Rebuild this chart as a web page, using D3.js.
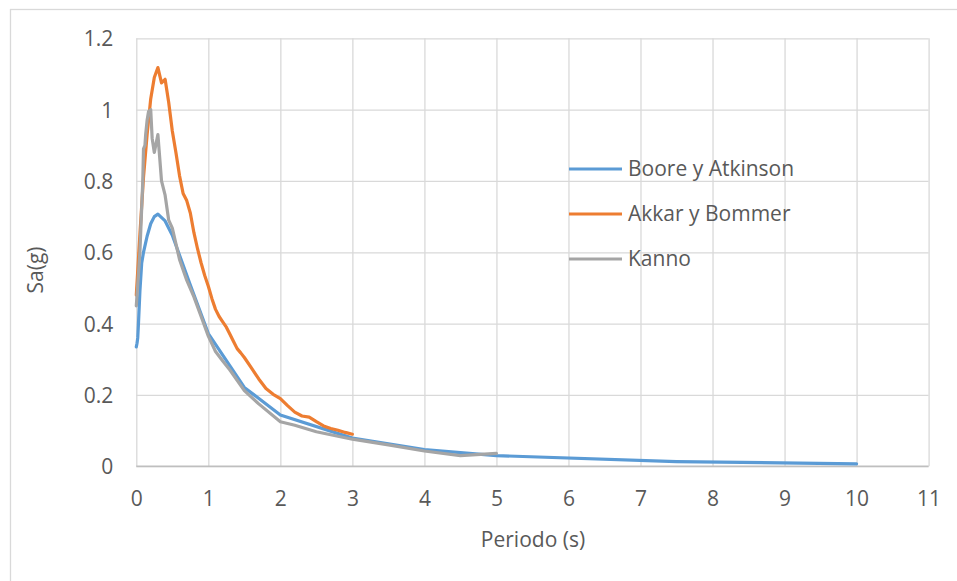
<!DOCTYPE html>
<html>
<head>
<meta charset="utf-8">
<script src="https://cdn.jsdelivr.net/npm/d3@7"></script>
<style>
  html, body { margin: 0; padding: 0; background: #ffffff; }
  svg { display: block; }
  text { font-family: "Open Sans", "Liberation Sans", sans-serif; fill: #595959; }
</style>
</head>
<body>
<svg id="chart" width="957" height="581"></svg>
<script>
// ---- Data ----
const seriesNames = ["Boore y Atkinson", "Akkar y Bommer", "Kanno"];

const booreT  = [0, 0.01, 0.02, 0.03, 0.05, 0.075, 0.1, 0.15, 0.2, 0.25, 0.3, 0.4, 0.5, 0.75, 1, 1.5, 2, 3, 4, 5, 7.5, 10];
const booreSa = [0.335, 0.345, 0.36, 0.40, 0.49, 0.57, 0.60, 0.645, 0.68, 0.70, 0.707, 0.688, 0.648, 0.508, 0.372, 0.221, 0.144, 0.079, 0.047, 0.030, 0.013, 0.007];

const akkarT  = [0, 0.05, 0.1, 0.15, 0.2, 0.25, 0.3, 0.35, 0.4, 0.45, 0.5, 0.55, 0.6, 0.65, 0.7, 0.75, 0.8, 0.85, 0.9, 0.95, 1.0, 1.05, 1.1, 1.15, 1.2, 1.25, 1.3, 1.35, 1.4, 1.45, 1.5, 1.6, 1.7, 1.8, 1.9, 2.0, 2.1, 2.2, 2.3, 2.4, 2.5, 2.6, 2.7, 2.8, 2.9, 3.0];
const akkarSa = [0.48, 0.65, 0.81, 0.93, 1.03, 1.09, 1.118, 1.075, 1.085, 1.02, 0.94, 0.88, 0.815, 0.765, 0.745, 0.71, 0.655, 0.61, 0.57, 0.535, 0.505, 0.47, 0.44, 0.42, 0.405, 0.39, 0.37, 0.35, 0.33, 0.318, 0.305, 0.275, 0.245, 0.218, 0.202, 0.19, 0.17, 0.152, 0.141, 0.138, 0.125, 0.113, 0.106, 0.101, 0.095, 0.09];

const kannoT  = [0, 0.05, 0.06, 0.07, 0.08, 0.09, 0.1, 0.11, 0.12, 0.13, 0.15, 0.17, 0.2, 0.22, 0.25, 0.3, 0.35, 0.4, 0.45, 0.5, 0.6, 0.7, 0.8, 0.9, 1.0, 1.1, 1.2, 1.3, 1.5, 1.7, 2.0, 2.2, 2.5, 3.0, 3.5, 4.0, 4.5, 5.0];
const kannoSa = [0.45, 0.60, 0.65, 0.70, 0.75, 0.80, 0.89, 0.895, 0.90, 0.93, 0.97, 0.995, 1.0, 0.92, 0.88, 0.93, 0.80, 0.76, 0.69, 0.668, 0.58, 0.522, 0.475, 0.42, 0.365, 0.322, 0.295, 0.27, 0.212, 0.175, 0.125, 0.115, 0.097, 0.076, 0.06, 0.043, 0.030, 0.036];

const xTicks = [0, 1, 2, 3, 4, 5, 6, 7, 8, 9, 10, 11];
const yTicks = [0, 0.2, 0.4, 0.6, 0.8, 1.0, 1.2];
const yTickLabels = ["0", "0.2", "0.4", "0.6", "0.8", "1", "1.2"];
const xTitle = "Periodo (s)";
const yTitle = "Sa(g)";

const colors = ["#5B9BD5", "#ED7D31", "#A5A5A5"];

// ---- Layout ----
const svg = d3.select("#chart");
const pL = 136.3, pR = 928.6, pT = 38.3, pB = 466.3;
const fs = 21;

const x = d3.scaleLinear().domain([0, 11]).range([pL, pR]);
const y = d3.scaleLinear().domain([0, 1.2]).range([pB, pT]);

// outer chart frame
svg.append("rect")
  .attr("x", 10.5).attr("y", 9.5)
  .attr("width", 1000).attr("height", 1000)
  .attr("fill", "#ffffff")
  .attr("stroke", "#d9d9d9").attr("stroke-width", 1.3);

// y gridlines + labels
const yAx = svg.append("g")
  .attr("transform", `translate(${pL},0)`)
  .call(d3.axisLeft(y).tickValues(yTicks)
    .tickFormat((d, i) => yTickLabels[i])
    .tickSize(-(pR - pL)).tickPadding(23));
yAx.select(".domain").remove();
yAx.selectAll(".tick line").attr("stroke", "#d9d9d9").attr("stroke-width", 1.3);
yAx.selectAll(".tick text").attr("font-size", fs).attr("dy", "0.36em")
  .style("font-family", "'Open Sans', sans-serif").attr("fill", "#595959");

// x gridlines + labels
const xAx = svg.append("g")
  .attr("transform", `translate(0,${pB})`)
  .call(d3.axisBottom(x).tickValues(xTicks)
    .tickFormat(d3.format("d"))
    .tickSize(-(pB - pT)).tickPadding(24.5));
xAx.select(".domain").remove();
xAx.selectAll(".tick line").attr("stroke", "#d9d9d9").attr("stroke-width", 1.3);
xAx.selectAll(".tick text").attr("font-size", fs)
  .style("font-family", "'Open Sans', sans-serif").attr("fill", "#595959");

// axis line at bottom
svg.append("line")
  .attr("x1", pL).attr("x2", pR)
  .attr("y1", pB).attr("y2", pB)
  .attr("stroke", "#bfbfbf").attr("stroke-width", 1.5);

// series
const line = d3.line().x(d => x(d[0])).y(d => y(d[1]));
const allSeries = [
  d3.zip(booreT, booreSa),
  d3.zip(akkarT, akkarSa),
  d3.zip(kannoT, kannoSa)
];
allSeries.forEach((data, i) => {
  svg.append("path")
    .datum(data)
    .attr("d", line)
    .attr("fill", "none")
    .attr("stroke", colors[i])
    .attr("stroke-width", 3.2)
    .attr("stroke-linejoin", "round")
    .attr("stroke-linecap", "round");
});

// axis titles
svg.append("text")
  .attr("x", 533).attr("y", 546.5)
  .attr("text-anchor", "middle").attr("font-size", fs)
  .text(xTitle);
svg.append("text")
  .attr("transform", "translate(43,270) rotate(-90)")
  .attr("text-anchor", "middle").attr("font-size", fs)
  .text(yTitle);

// legend
const legendRows = [169, 214, 259];
seriesNames.forEach((name, i) => {
  const g = svg.append("g").attr("transform", `translate(569,${legendRows[i]})`);
  g.append("line").attr("x1", 0).attr("x2", 53).attr("y1", 0).attr("y2", 0)
    .attr("stroke", colors[i]).attr("stroke-width", 3.2);
  g.append("text").attr("x", 59).attr("y", 0).attr("dy", "0.35em")
    .attr("font-size", fs).text(name);
});
</script>
</body>
</html>
